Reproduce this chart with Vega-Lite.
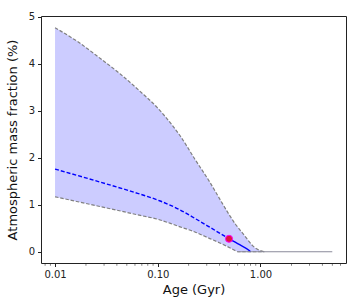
{
  "$schema": "https://vega.github.io/schema/vega-lite/v6.json",
  "autosize": "none",
  "width": 305,
  "height": 247,
  "padding": {"left": 41, "top": 16, "right": 14, "bottom": 45},
  "config": {
    "view": {"stroke": "#222222", "strokeWidth": 1},
    "font": "DejaVu Sans",
    "axis": {"grid": false, "domain": false, "tickColor": "#222222", "labelColor": "#222222", "titleColor": "#111111", "labelFont": "DejaVu Sans", "titleFont": "DejaVu Sans", "labelFontSize": 10, "titleFontSize": 13, "titleFontWeight": "normal", "tickSize": 3.5}
  },
  "datasets": {
    "band": [
      {"age": 0.01, "lo": 1.17, "hi": 4.77},
      {"age": 0.0167, "lo": 1.065, "hi": 4.47},
      {"age": 0.0278, "lo": 0.96, "hi": 4.11},
      {"age": 0.0434, "lo": 0.867, "hi": 3.78},
      {"age": 0.0677, "lo": 0.773, "hi": 3.41},
      {"age": 0.0989, "lo": 0.694, "hi": 3.07},
      {"age": 0.141, "lo": 0.583, "hi": 2.67},
      {"age": 0.165, "lo": 0.53, "hi": 2.47},
      {"age": 0.23, "lo": 0.42, "hi": 1.97},
      {"age": 0.3215, "lo": 0.28, "hi": 1.48},
      {"age": 0.402, "lo": 0.187, "hi": 1.12},
      {"age": 0.502, "lo": 0.085, "hi": 0.77},
      {"age": 0.5734, "lo": 0.02, "hi": 0.58},
      {"age": 0.60, "lo": 0.0, "hi": 0.527},
      {"age": 0.6553, "lo": 0.0, "hi": 0.42},
      {"age": 0.749, "lo": 0.0, "hi": 0.26},
      {"age": 0.837, "lo": 0.0, "hi": 0.13},
      {"age": 0.956, "lo": 0.0, "hi": 0.04},
      {"age": 1.093, "lo": 0.0, "hi": 0.0}
    ],
    "median_dashed": [
      {"age": 0.01, "value": 1.76},
      {"age": 0.0278, "value": 1.48},
      {"age": 0.0542, "value": 1.29},
      {"age": 0.1057, "value": 1.08},
      {"age": 0.165, "value": 0.89},
      {"age": 0.23, "value": 0.71},
      {"age": 0.322, "value": 0.52},
      {"age": 0.494, "value": 0.275}
    ],
    "median_solid": [
      {"age": 0.494, "value": 0.275},
      {"age": 0.627, "value": 0.15},
      {"age": 0.783, "value": 0.02},
      {"age": 0.80, "value": 0.0}
    ],
    "zero": [
      {"age": 0.60, "value": 0.0},
      {"age": 5.0, "value": 0.0}
    ],
    "point": [
      {"age": 0.494, "value": 0.275}
    ]
  },
  "layer": [
    {
      "data": {"name": "band"},
      "mark": {"type": "area", "color": "#ccccff", "opacity": 1, "interpolate": "monotone"},
      "encoding": {
        "x": {"field": "age", "type": "quantitative", "scale": {"type": "log", "domain": [0.0073, 6.8], "nice": false},
              "axis": {"values": [0.01, 0.1, 1], "format": ".2f", "title": "Age (Gyr)", "orient": "bottom", "labelPadding": 3, "titlePadding": 4}},
        "y": {"field": "hi", "type": "quantitative", "scale": {"domain": [-0.24, 5.02], "nice": false, "zero": false},
              "axis": {"values": [0, 1, 2, 3, 4, 5], "format": "d", "title": "Atmospheric mass fraction (%)", "labelPadding": 3, "titlePadding": 9}},
        "y2": {"field": "lo"}
      }
    },
    {
      "data": {"name": "band"},
      "mark": {"type": "line", "color": "#808080", "strokeWidth": 1.2, "strokeDash": [3.5, 1.8], "interpolate": "monotone"},
      "encoding": {
        "x": {"field": "age", "type": "quantitative"},
        "y": {"field": "hi", "type": "quantitative"}
      }
    },
    {
      "data": {"name": "band"},
      "mark": {"type": "line", "color": "#808080", "strokeWidth": 1.2, "strokeDash": [3.5, 1.8], "interpolate": "monotone"},
      "encoding": {
        "x": {"field": "age", "type": "quantitative"},
        "y": {"field": "lo", "type": "quantitative"}
      }
    },
    {
      "data": {"name": "median_dashed"},
      "mark": {"type": "line", "color": "#0000ff", "strokeWidth": 1.4, "strokeDash": [4, 2], "interpolate": "monotone"},
      "encoding": {
        "x": {"field": "age", "type": "quantitative"},
        "y": {"field": "value", "type": "quantitative"}
      }
    },
    {
      "data": {"name": "median_solid"},
      "mark": {"type": "line", "color": "#0000ff", "strokeWidth": 1.4, "interpolate": "monotone"},
      "encoding": {
        "x": {"field": "age", "type": "quantitative"},
        "y": {"field": "value", "type": "quantitative"}
      }
    },
    {
      "data": {"name": "zero"},
      "mark": {"type": "line", "color": "#8a8a9a", "strokeWidth": 1.2},
      "encoding": {
        "x": {"field": "age", "type": "quantitative"},
        "y": {"field": "value", "type": "quantitative"}
      }
    },
    {
      "data": {"name": "point"},
      "mark": {"type": "point", "filled": true, "shape": "circle", "size": 50, "color": "#dc143c", "stroke": "#ff00ff", "strokeWidth": 1, "opacity": 1},
      "encoding": {
        "x": {"field": "age", "type": "quantitative"},
        "y": {"field": "value", "type": "quantitative"}
      }
    },
    {
      "data": {"values": [{"age": 0.008}, {"age": 0.009}, {"age": 0.02}, {"age": 0.03}, {"age": 0.04}, {"age": 0.05}, {"age": 0.06}, {"age": 0.07}, {"age": 0.08}, {"age": 0.09}, {"age": 0.2}, {"age": 0.3}, {"age": 0.4}, {"age": 0.5}, {"age": 0.6}, {"age": 0.7}, {"age": 0.8}, {"age": 0.9}, {"age": 2}, {"age": 3}, {"age": 4}, {"age": 5}, {"age": 6}]},
      "mark": {"type": "tick", "color": "#222222", "orient": "vertical", "size": 2.2, "thickness": 0.8, "yOffset": 1.6},
      "encoding": {
        "x": {"field": "age", "type": "quantitative"},
        "y": {"datum": -0.24, "type": "quantitative"}
      }
    }
  ]
}
